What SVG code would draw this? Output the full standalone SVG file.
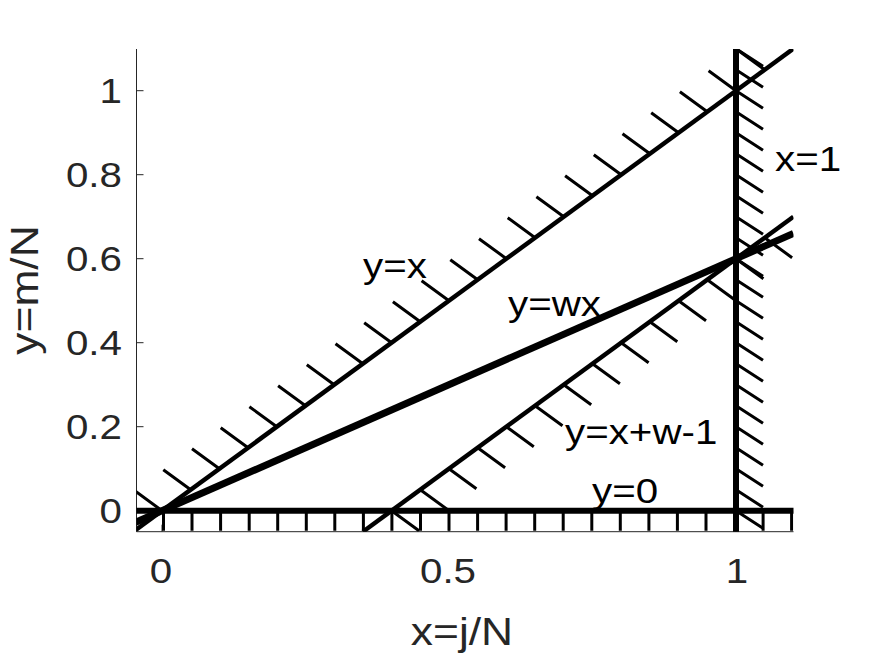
<svg xmlns="http://www.w3.org/2000/svg" width="875" height="656" viewBox="0 0 875 656">
<style>
.ax{stroke:#262626;stroke-width:1;fill:none}
.tl{font-family:"Liberation Sans",Arial,sans-serif;font-size:36px;fill:#262626}
.al{font-family:"Liberation Sans",Arial,sans-serif;font-size:39.6px;fill:#262626}
.lb{font-family:"Liberation Sans",Arial,sans-serif;font-size:36px;fill:#000}
.ln{stroke:#000;fill:none;stroke-linecap:butt}
.h{stroke:#000;stroke-width:3;fill:none}
</style>
<defs>
<clipPath id="cp"><rect x="136.5" y="49" width="657" height="482.7"/></clipPath>
</defs>
<rect width="875" height="656" fill="#fff"/>
<g id="axes">
<path class="ax" d="M136.5,49V531.7H793.5"/>
<path class="ax" d="M136.5,510.7h7M136.5,426.7h7M136.5,342.7h7M136.5,258.7h7M136.5,174.7h7M136.5,90.7h7M162,531.7v-7M449,531.7v-7M736,531.7v-7"/>
<text class="tl" text-anchor="end" transform="translate(122,523) scale(1.12,1)">0</text>
<text class="tl" text-anchor="end" transform="translate(122,439) scale(1.12,1)">0.2</text>
<text class="tl" text-anchor="end" transform="translate(122,355) scale(1.12,1)">0.4</text>
<text class="tl" text-anchor="end" transform="translate(122,271) scale(1.12,1)">0.6</text>
<text class="tl" text-anchor="end" transform="translate(122,187) scale(1.12,1)">0.8</text>
<text class="tl" text-anchor="end" transform="translate(122,103) scale(1.12,1)">1</text>
<text class="tl" text-anchor="middle" transform="translate(161,583) scale(1.12,1)">0</text>
<text class="tl" text-anchor="middle" transform="translate(448,583) scale(1.12,1)">0.5</text>
<text class="tl" text-anchor="middle" transform="translate(737,583) scale(1.12,1)">1</text>
<text class="al" text-anchor="middle" transform="translate(462,645) scale(1.12,1)">x=j/N</text>
<text class="al" text-anchor="middle" transform="translate(38,290) rotate(-90) scale(1.12,1)">y=m/N</text>
</g>
<g id="connectors" clip-path="url(#cp)">
<g id="line-y-eq-x">
<path class="ln" stroke-width="4.5" d="M133.3,531.7L793.4,48.7"/>
<path class="h" d="M162,510.7l-27.4,-20M190.7,489.7l-27.4,-20M219.4,468.7l-27.4,-20M248.1,447.7l-27.4,-20M276.8,426.7l-27.4,-20M305.5,405.7l-27.4,-20M334.2,384.7l-27.4,-20M362.9,363.7l-27.4,-20M391.6,342.7l-27.4,-20M420.3,321.7l-27.4,-20M449,300.7l-27.4,-20M477.7,279.7l-27.4,-20M506.4,258.7l-27.4,-20M535.1,237.7l-27.4,-20M563.8,216.7l-27.4,-20M592.5,195.7l-27.4,-20M621.2,174.7l-27.4,-20M649.9,153.7l-27.4,-20M678.6,132.7l-27.4,-20M707.3,111.7l-27.4,-20M736,90.7l-27.4,-20M764.7,69.7l-27.4,-20"/>
</g>
<g id="line-y-eq-wx">
<path class="ln" stroke-width="7" d="M133.3,523.3L793.4,233.5"/>
</g>
<g id="line-y-eq-x-w-1">
<path class="ln" stroke-width="4.5" d="M362.9,531.7L793.4,216.7"/>
<path class="h" d="M391.6,510.7l27.4,20M420.3,489.7l27.4,20M449,468.7l27.4,20M477.7,447.7l27.4,20M506.4,426.7l27.4,20M535.1,405.7l27.4,20M563.8,384.7l27.4,20M592.5,363.7l27.4,20M621.2,342.7l27.4,20M649.9,321.7l27.4,20M678.6,300.7l27.4,20M707.3,279.7l27.4,20M736,258.7l27.4,20M764.7,237.7l27.4,20"/>
</g>
<g id="line-y-eq-0">
<path class="ln" stroke-width="6" d="M133,510.7H796"/>
<path class="h" d="M163.5,510.7v20M192,510.7v20M220.6,510.7v20M249.2,510.7v20M277.7,510.7v20M306.3,510.7v20M334.8,510.7v20M363.4,510.7v20M391.9,510.7v20M420.5,510.7v20M449,510.7v20M477.6,510.7v20M506.1,510.7v20M534.7,510.7v20M563.2,510.7v20M591.8,510.7v20M620.3,510.7v20M648.9,510.7v20M677.4,510.7v20M706,510.7v20M734.5,510.7v20M763.1,510.7v20M791.6,510.7v20"/>
</g>
<g id="line-x-eq-1">
<path class="ln" stroke-width="6" d="M736,46V534"/>
<path class="h" d="M736,510.7l27,17.5M736,489.7l27,17.5M736,468.7l27,17.5M736,447.7l27,17.5M736,426.7l27,17.5M736,405.7l27,17.5M736,384.7l27,17.5M736,363.7l27,17.5M736,342.7l27,17.5M736,321.7l27,17.5M736,300.7l27,17.5M736,279.7l27,17.5M736,258.7l27,17.5M736,237.7l27,17.5M736,216.7l27,17.5M736,195.7l27,17.5M736,174.7l27,17.5M736,153.7l27,17.5M736,132.7l27,17.5M736,111.7l27,17.5M736,90.7l27,17.5M736,69.7l27,17.5M736,48.7l27,17.5"/>
</g>
</g>
<g id="labels">
<text class="lb" transform="translate(363,278) scale(1.12,1)">y=x</text>
<text class="lb" transform="translate(508,316) scale(1.12,1)">y=wx</text>
<text class="lb" transform="translate(565,444) scale(1.12,1)">y=x+w-1</text>
<text class="lb" transform="translate(592,503) scale(1.12,1)">y=0</text>
<text class="lb" transform="translate(775,171) scale(1.12,1)">x=1</text>
</g>
</svg>
